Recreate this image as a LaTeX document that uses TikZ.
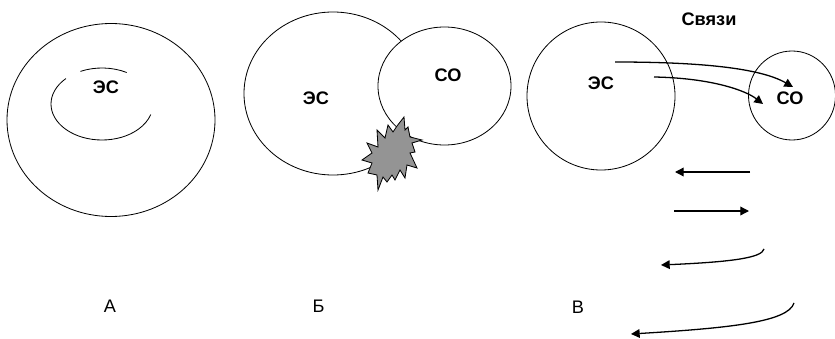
\documentclass[tikz,border=0pt]{standalone}
\usepackage{fontspec}
\setmainfont{Liberation Sans}
\usetikzlibrary{shapes.geometric,arrows.meta}
\begin{document}
\begin{tikzpicture}[
       x=0.03cm, y=-0.03cm,
       blob/.style={ellipse, draw=black, line width=0.7pt, fill=white, inner sep=0pt, outer sep=0pt},
       tag/.style={font=\fontsize{15.5}{18}\selectfont\bfseries, inner sep=0pt},
       letter/.style={font=\fontsize{15.5}{18}\selectfont, inner sep=0pt},
       arrow/.style={-{Triangle[length=2.6mm,width=2.6mm]}, line width=1.1pt, black}
   ]
   \useasboundingbox (0,0) rectangle (835,339);

   % A
   \node[blob, minimum width=6.24cm, minimum height=5.79cm] (esA) at (111,120) {};
   \draw[line width=0.7pt] (102,104) ++(245:51 and 36) arc[start angle=245, end angle=299, x radius=51, y radius=36];
   \draw[line width=0.7pt] (102,104) ++(225:51 and 36) arc[start angle=225, end angle=17, x radius=51, y radius=36];
   \node[tag] (esAtxt) at (106,87) {ЭС};
   \node[letter] (labA) at (110,306) {А};

   % B
   \node[blob, minimum width=5.34cm, minimum height=4.89cm] (esB) at (333,93.5) {};
   \node[blob, minimum width=3.99cm, minimum height=3.54cm] (coB) at (444.5,86) {};
   \draw[line width=0.7pt, fill=black!42] (388,125) -- (393,132) -- (397,126) -- (404,117) -- (405,130)
      -- (408,127) -- (410,137) -- (422,140) -- (412,143) -- (415,152) -- (410,153) -- (417,168)
      -- (407,165) -- (405,178) -- (400,170) -- (395,180) -- (392,175) -- (387,182) -- (383,177)
      -- (378,190) -- (377,175) -- (368,173) -- (372,163) -- (362,160) -- (372,153) -- (367,143)
      -- (378,147) -- (377,130) -- (385,138) -- cycle;
   \node[tag] (esBtxt) at (316,98) {ЭС};
   \node[tag] (coBtxt) at (448,75) {СО};
   \node[letter] (labB) at (318.5,306) {Б};

   % C
   \node[blob, minimum width=4.44cm, minimum height=4.44cm] (esC) at (601,96) {};
   \node[blob, minimum width=2.61cm, minimum height=2.67cm] (coC) at (792,95.5) {};
   \node[tag] (esCtxt) at (601,83) {ЭС};
   \node[tag] (coCtxt) at (790,98) {СО};
   \node[tag] (links) at (709,19) {Связи};
   \node[letter] (labC) at (578,307) {В};

   \coordinate (s1) at (615,62);
   \coordinate (e1) at (793,87);
   \coordinate (s2) at (654,77);
   \coordinate (e2) at (763,104);
   \draw[arrow] (s1) .. controls (700,62) and (760,68) .. (e1);
   \draw[arrow] (s2) .. controls (710,78) and (745,90) .. (e2);

   \coordinate (l1s) at (750,172);
   \coordinate (l1e) at (675,172);
   \coordinate (l2s) at (674,211);
   \coordinate (l2e) at (749,211);
   \coordinate (l3s) at (764,249);
   \coordinate (l3e) at (661,265);
   \coordinate (l4s) at (794,303);
   \coordinate (l4e) at (631,334);
   \draw[arrow] (l1s) -- (l1e);
   \draw[arrow] (l2s) -- (l2e);
   \draw[arrow] (l3s) .. controls (762,258) and (730,262) .. (l3e);
   \draw[arrow] (l4s) .. controls (788,322) and (730,328) .. (l4e);
\end{tikzpicture}
\end{document}
